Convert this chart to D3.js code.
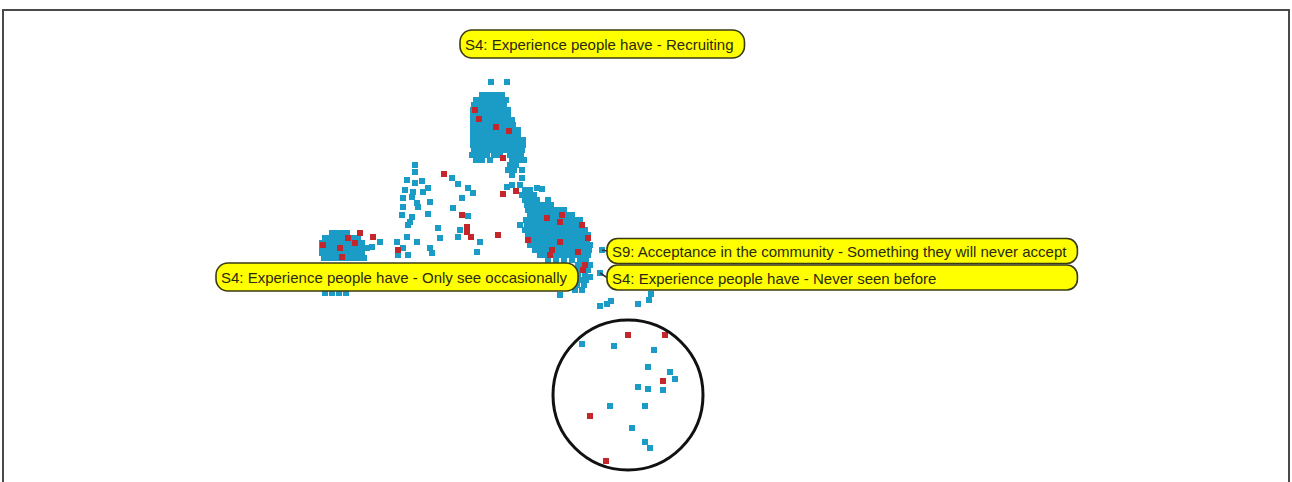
<!DOCTYPE html>
<html><head><meta charset="utf-8">
<script src="https://cdn.jsdelivr.net/npm/d3@7"></script>
<style>body{margin:0;background:#fff;}svg{display:block;}</style>
</head><body>
<svg id="c" width="1292" height="482"></svg>
<script>
// Dense clusters: [y, [x values]] rows (data units)
const tealRows = [
 [39.8,[39.1,40.7]],
 [38.5,[38.2,38.7,39.2,39.7,40.2]],
 [38.0,[37.6,38.1,38.6,39.1,39.6,40.1,40.6]],
 [37.5,[37.4,37.9,38.4,38.9,39.4,39.9,40.4]],
 [37.0,[37.3,37.8,38.3,38.8,39.3,39.8,40.3,40.8]],
 [36.5,[37.3,37.8,38.3,38.8,39.3,39.8,40.3,40.8]],
 [36.0,[37.3,37.8,38.3,38.8,39.3,39.8,40.3,40.8,41.2]],
 [35.5,[37.3,37.8,38.3,38.8,39.3,39.8,40.3,40.8,41.3]],
 [35.0,[37.3,37.8,38.3,38.8,39.3,39.8,40.3,40.8,41.4,41.8]],
 [34.5,[37.3,37.8,38.3,38.8,39.3,39.8,40.3,40.8,41.3,41.8]],
 [34.0,[37.3,37.8,38.3,38.8,39.3,39.8,40.3,40.8,41.3,41.8,42.3]],
 [33.5,[37.3,37.8,38.3,38.8,39.3,39.8,40.3,40.8,41.3,41.8,42.3]],
 [33.0,[37.4,37.9,38.4,38.9,39.4,39.9,40.4,41.0,41.6,42.2]],
 [32.5,[37.2,37.7,38.2,38.7,39.4,40.0,41.0,41.6,42.1]],
 [32.0,[37.6,38.2,39.0,41.2,41.8,42.4]],
 [31.5,[41.0,41.6]],
 [31.0,[40.8,41.4,42.2]],
 [30.5,[41.2]],
 // left cluster
 [24.7,[23.2,23.7,24.2,24.7]],
 [24.2,[22.5,23.0,23.5,24.0,24.5,25.2,25.8]],
 [23.7,[22.2,22.7,23.2,23.7,24.2,24.7,25.2,25.7,26.2]],
 [23.2,[22.2,22.7,23.2,23.7,24.2,24.7,25.2,25.7,26.2,26.7]],
 [22.7,[22.2,22.7,23.2,23.7,24.2,24.7,25.2,25.7,26.2]],
 [22.2,[22.4,22.9,23.4,23.9,24.4,24.9,25.4,25.9,26.4]],
 [18.7,[22.5,23.2,23.9,24.6]],
 // right cluster
 [29.5,[41.2,42.0]],
 [29.0,[42.5,43.0]],
 [28.5,[42.2,42.8,43.4]],
 [28.0,[42.5,43.1,43.7,44.8]],
 [27.5,[42.7,43.3,43.9,44.5,45.1]],
 [27.0,[42.8,43.4,44.0,44.6,45.2,45.8,46.4]],
 [26.5,[43.0,43.6,44.2,44.8,45.4,46.0,46.6,47.2]],
 [26.0,[42.6,43.2,43.8,44.4,45.0,45.6,46.2,46.8,47.4,48.0]],
 [25.5,[42.7,43.3,43.9,44.5,45.1,45.7,46.3,46.9,47.5,48.1]],
 [25.0,[42.5,43.1,43.7,44.3,44.9,45.5,46.1,46.7,47.3,47.9,48.5]],
 [24.5,[42.8,43.4,44.0,44.6,45.2,45.8,46.4,47.0,47.6,48.2,48.8]],
 [24.0,[43.3,43.9,44.5,45.1,45.7,46.3,46.9,47.5,48.1,48.7]],
 [23.5,[43.0,43.6,44.2,44.8,45.4,46.0,46.6,47.2,47.8,48.4,49.0]],
 [23.0,[43.5,44.1,44.7,45.3,45.9,46.5,47.1,47.7,48.3,48.9]],
 [22.5,[44.0,44.6,45.2,45.8,46.4,47.0,47.6,48.2,48.8]],
 [22.0,[44.8,45.6,46.4,47.2,48.0,48.6]],
 [21.5,[47.8,48.4,49.0]],
 [21.0,[48.0,48.8]],
 [20.5,[47.8,48.5]],
 [20.0,[48.0,48.6]],
 [19.5,[47.7,48.4]],
 [19.0,[47.5,48.2]]
];
// Scattered teal points [x, y]
const tealScatter = [
 [31.5,31.5],[31.5,30.8],[30.7,30.0],[31.5,29.7],[32.2,29.9],[32.8,29.2],[30.5,29.0],[31.3,28.8],
 [30.3,28.2],[31.2,28.3],[32.3,28.8],[31.7,27.7],[31.8,27.3],[30.3,27.3],[30.2,26.5],[33.0,27.8],
 [32.8,26.6],[31.2,26.3],[31.0,25.8],[30.8,25.5],[35.2,30.2],[35.8,29.6],[36.8,29.2],[37.3,28.7],
 [36.2,28.2],[35.3,27.2],[36.8,26.4],[33.8,25.2],[36.0,25.0],[35.8,24.3],[34.0,24.2],[38.0,23.8],
 [37.7,22.8],[33.0,23.2],[33.2,22.7],[31.7,23.8],[30.7,24.3],[29.7,23.8],[30.8,22.5],[29.8,22.5],
 [30.3,23.2],[28.0,23.8],[27.2,23.3],[42.2,30.2],[40.7,29.3],[43.7,29.2],[44.2,29.1],[42.0,25.5],
 [50.2,23.0],[50.0,20.7],[49.0,20.3],[46.0,18.5],[50.0,17.4],[51.1,17.9],[53.8,17.6],[55.1,18.6],
 [54.9,18.0],[50.7,17.6],
 // inside the circle
 [48.2,13.6],[51.4,13.4],[55.4,13.0],[54.8,11.3],[57.0,10.8],[57.5,10.1],[56.3,9.0],[53.8,9.3],
 [54.8,9.1],[51.0,7.4],[54.5,7.4],[53.2,5.2],[54.5,3.8],[55.0,3.2]
];
const redPoints = [
 [37.5,37.0],[37.9,36.1],[39.6,35.3],[40.9,34.9],[40.3,32.2],
 [34.4,30.6],[40.3,28.6],[41.6,28.9],
 [36.2,26.5],[36.7,25.3],[36.7,24.8],[37.1,24.3],[39.8,24.5],[29.8,23.0],
 [22.3,23.5],[24.0,23.2],[24.8,24.2],[25.5,23.7],[26.0,24.7],[27.3,24.3],[24.2,22.3],
 [44.7,26.2],[46.0,25.8],[46.2,26.5],[48.2,25.5],[42.8,24.0],[46.0,23.8],[48.8,24.2],
 [45.2,23.0],[45.0,22.5],[47.8,22.8],[48.5,21.5],[48.3,21.0],
 [52.8,14.5],[56.5,14.5],[56.3,9.9],[49.0,6.4],[50.6,1.9]
];
const labelTexts = [
 "S4: Experience people have - Recruiting",
 "S4: Experience people have - Only see occasionally",
 "S9: Acceptance in the community - Something they will never accept",
 "S4: Experience people have - Never seen before"
];
const labelLeft = [36.0, 11.6, 50.7, 50.7];
const labelCenterY = [43.6, 20.3, 22.9, 20.25];
const labelLinkFrom = [null, null, [50.2,23.0], [50.0,20.7]];
const circleCenter = [52.8, 8.5];
const circleRadius = 7.5;

const svg = d3.select("#c");
const x = d3.scaleLinear().domain([0,100]).range([100,1100]);
const y = d3.scaleLinear().domain([0,48]).range([480,0]);

// frame
svg.append("path").attr("d","M3,482 V10 H1289 V482").attr("fill","none")
  .attr("stroke","#4a4a4a").attr("stroke-width",2);

const teal = [];
tealRows.forEach(([yy, xs]) => xs.forEach(xx => teal.push([xx, yy])));
tealScatter.forEach(p => teal.push(p));

const S = 6;
svg.append("g").selectAll("rect").data(teal).join("rect")
  .attr("x", d => x(d[0]) - S/2).attr("y", d => y(d[1]) - S/2)
  .attr("width", S).attr("height", S).attr("fill", "#1b9cc6");
svg.append("g").selectAll("rect").data(redPoints).join("rect")
  .attr("x", d => x(d[0]) - S/2).attr("y", d => y(d[1]) - S/2)
  .attr("width", S).attr("height", S).attr("fill", "#c4262c");

// circle
svg.append("circle").attr("cx", x(circleCenter[0])).attr("cy", y(circleCenter[1]))
  .attr("r", x(circleRadius) - x(0)).attr("fill","none").attr("stroke","#111").attr("stroke-width",3);

// labels
const lg = svg.append("g");
const items = labelTexts.map((t,i) => {
  const g = lg.append("g");
  const txt = g.append("text").text(t).attr("font-family","Arial, 'Liberation Sans', sans-serif")
    .attr("font-size", 15).attr("fill","#2a2a10").attr("dominant-baseline","central");
  return {g, txt, w: txt.node().getComputedTextLength(), i};
});
const widthByLeft = {};
items.forEach(it => { const k = labelLeft[it.i]; widthByLeft[k] = Math.max(widthByLeft[k]||0, it.w); });
items.forEach(it => {
  const i = it.i;
  const w = widthByLeft[labelLeft[i]] + 16;
  const h = (i === 0 || i === 1) ? 28 : 25;
  const lx = x(labelLeft[i]), cy = y(labelCenterY[i]);
  if (labelLinkFrom[i]) {
    lg.insert("line", ":first-child").attr("x1", x(labelLinkFrom[i][0])).attr("y1", y(labelLinkFrom[i][1]))
      .attr("x2", lx).attr("y2", cy).attr("stroke","#333").attr("stroke-width",1.5);
  }
  it.g.insert("rect","text").attr("x", lx).attr("y", cy - h/2).attr("width", w).attr("height", h)
    .attr("rx", h/2 - 2).attr("ry", h/2 - 2).attr("fill","#ffff00").attr("stroke","#3a3a14").attr("stroke-width",1.6);
  it.txt.attr("x", lx + 5).attr("y", cy + 0.5);
});
</script>
</body></html>
